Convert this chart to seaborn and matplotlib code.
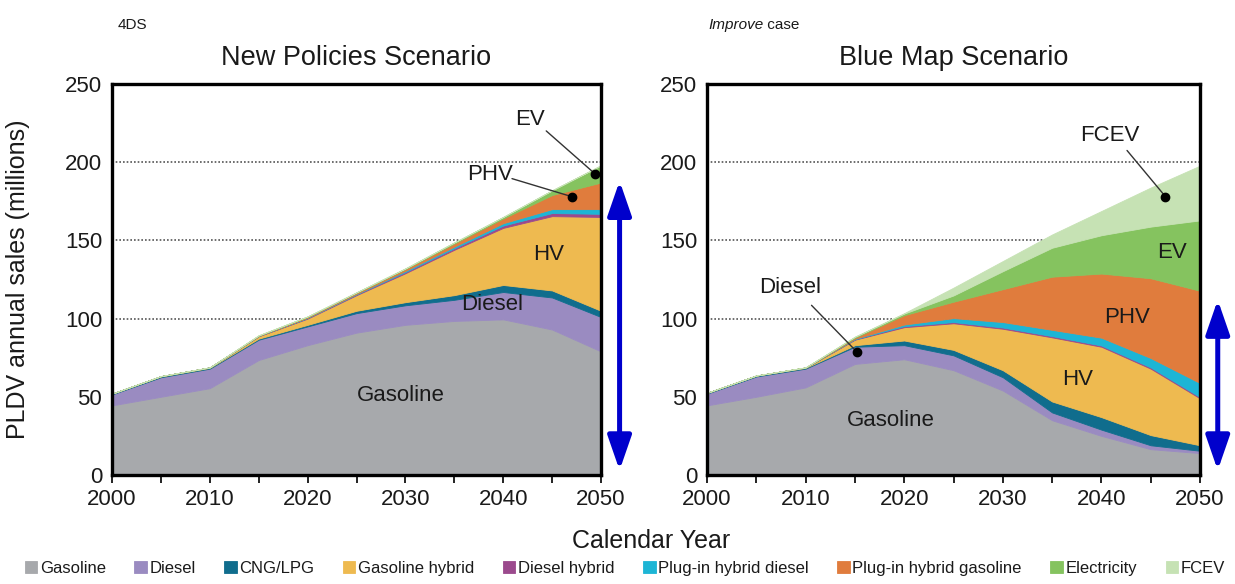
import matplotlib
matplotlib.use("Agg")
import matplotlib.pyplot as plt
import pandas as pd
import seaborn as sns

# ---- data: annual passenger light-duty vehicle sales, millions ----
years = [2000, 2005, 2010, 2015, 2020, 2025, 2030, 2035, 2040, 2045, 2050]
categories = ["Gasoline", "Diesel", "CNG/LPG", "Gasoline hybrid", "Diesel hybrid",
              "Plug-in hybrid diesel", "Plug-in hybrid gasoline", "Electricity", "FCEV"]

# New Policies Scenario (4DS)
nps_gasoline = [44.5, 50, 55.5, 73.5, 83, 91, 96, 98.5, 99.5, 93, 79]
nps_diesel = [7, 12.5, 12.5, 13, 12, 12.5, 12.5, 13.5, 17.5, 20.5, 22]
nps_cng = [0.5, 0.5, 0.5, 0.7, 1, 1.5, 2, 3, 4.5, 4.5, 4]
nps_gas_hybrid = [0, 0.2, 0.3, 1.5, 4, 10, 18.5, 29, 36.5, 47.5, 60]
nps_diesel_hybrid = [0, 0, 0, 0.2, 0.4, 0.5, 0.8, 1, 1.5, 2, 2]
nps_phev_diesel = [0, 0, 0, 0, 0.2, 0.3, 0.7, 1, 1.5, 2.5, 3]
nps_phev_gasoline = [0, 0, 0, 0.2, 0.5, 0.7, 1.2, 2, 3, 9, 17]
nps_electric = [0, 0, 0, 0.2, 0.3, 0.3, 0.4, 0.7, 1, 3, 11]
nps_fcev = [0, 0, 0, 0, 0, 0, 0, 0, 0, 0, 0]

# Blue Map Scenario (Improve case)
bms_gasoline = [44.5, 50, 56, 71, 74, 67, 54, 35, 25, 16.5, 14]
bms_diesel = [7.5, 13, 12, 11, 9, 9.5, 8.5, 5, 4, 2.5, 1.5]
bms_cng = [0.5, 0.5, 0.5, 1, 3, 3.5, 4.5, 7, 8, 6.5, 3.5]
bms_gas_hybrid = [0, 0.1, 0.2, 3.5, 8.5, 17, 26.5, 41, 45, 42.5, 30]
bms_diesel_hybrid = [0, 0, 0, 0.3, 0.7, 0.8, 0.8, 0.8, 0.8, 0.8, 0.8]
bms_phev_diesel = [0, 0, 0, 0.3, 1, 2.5, 3.5, 4, 5, 6, 9]
bms_phev_gasoline = [0, 0, 0.1, 0.7, 6, 10.5, 21, 34, 41, 51, 59]
bms_electric = [0, 0, 0, 0.5, 1, 4, 11.5, 18.5, 24.5, 33, 45]
bms_fcev = [0, 0, 0, 0.2, 0.3, 5, 6.5, 8.5, 15.5, 25, 35]

nps = pd.DataFrame(dict(zip(categories, [
    nps_gasoline, nps_diesel, nps_cng, nps_gas_hybrid, nps_diesel_hybrid,
    nps_phev_diesel, nps_phev_gasoline, nps_electric, nps_fcev])), index=years)
bms = pd.DataFrame(dict(zip(categories, [
    bms_gasoline, bms_diesel, bms_cng, bms_gas_hybrid, bms_diesel_hybrid,
    bms_phev_diesel, bms_phev_gasoline, bms_electric, bms_fcev])), index=years)

colors = ["#a7a9ac", "#9a8bc1", "#106d8d", "#eeba50", "#9b4a8d",
          "#1db5d5", "#e07c3d", "#85c35f", "#c6e2b4"]

# ---- style ----
sns.set_theme(style="white")
plt.rcParams["font.family"] = ["Liberation Sans", "DejaVu Sans"]
text_color = "#1a1a1a"

fig = plt.figure(figsize=(12.35, 5.84), dpi=100)
W, H = 1235, 584


def frame(x0, x1, y0, y1):
    return [x0 / W, 1 - y1 / H, (x1 - x0) / W, (y1 - y0) / H]


ax_l = fig.add_axes(frame(112, 601, 84, 475))
ax_r = fig.add_axes(frame(707, 1200, 84, 475))


def draw_panel(ax, df, title):
    polys = ax.stackplot(df.index, df.T.values, colors=colors, linewidth=0.6,
                         labels=df.columns, zorder=2)
    for p, c in zip(polys, colors):
        p.set_edgecolor(c)
    for v in (100, 150, 200):
        ax.axhline(v, color="#555555", lw=1.2, ls=(0, (1, 1.2)), zorder=1)
    ax.set_xlim(2000, 2050)
    ax.set_ylim(0, 250)
    ax.set_xticks(range(2000, 2051, 10))
    ax.set_xticks(range(2005, 2050, 10), minor=True)
    ax.set_yticks(range(0, 251, 50))
    ax.tick_params(axis="x", which="both", direction="out", length=6, width=1.4,
                   color="#222222", bottom=True, labelsize=16, pad=4,
                   labelcolor=text_color)
    ax.tick_params(axis="y", length=0, labelsize=16, pad=7, labelcolor=text_color)
    for s in ax.spines.values():
        s.set_linewidth(2.4)
        s.set_color("black")
    ax.set_title(title, fontsize=19.5, pad=14, color=text_color)
    ax.grid(False)
    return polys


draw_panel(ax_l, nps, "New Policies Scenario")
draw_panel(ax_r, bms, "Blue Map Scenario")

ax_l.set_ylabel("PLDV annual sales (millions)", fontsize=18, color=text_color)
ax_l.yaxis.set_label_coords(-0.168, 0.5)
fig.text(651 / W, 1 - 541 / H, "Calendar Year", fontsize=18, ha="center",
         va="center", color=text_color)

# scenario tags above the titles
fig.text(118 / W, 1 - 25 / H, "4DS", fontsize=11, va="center", color=text_color)
t_imp = fig.text(708 / W, 1 - 25 / H, "Improve", fontsize=11, va="center",
                 style="italic", color=text_color)
ax_r.annotate(" case", xy=(1, 0.5), xycoords=t_imp, va="center", ha="left",
              fontsize=11, color=text_color, annotation_clip=False)

# ---- in-chart labels ----
lab = dict(fontsize=16, ha="center", va="center", color=text_color, zorder=5)
ax_l.text(2029.5, 51, "Gasoline", **lab)
ax_l.text(2038.9, 109, "Diesel", **lab)
ax_l.text(2044.6, 141, "HV", **lab)
ax_l.text(2038.7, 192, "PHV", bbox=dict(facecolor="white", edgecolor="none", pad=1), **lab)
ax_l.text(2042.7, 227, "EV", **lab)

ax_r.text(2018.6, 35, "Gasoline", **lab)
ax_r.text(2037.6, 61, "HV", **lab)
ax_r.text(2042.6, 100.5, "PHV", **lab)
ax_r.text(2047.2, 142, "EV", **lab)
ax_r.text(2040.9, 217, "FCEV", **lab)
ax_r.text(2008.4, 120, "Diesel", **lab)


def pointer(ax, start, end):
    ax.plot([start[0], end[0]], [start[1], end[1]], color="#333333", lw=1.0, zorder=6)
    ax.plot([end[0]], [end[1]], "o", color="black", ms=6, zorder=7)


pointer(ax_l, (2040.9, 189.5), (2047.0, 178))
pointer(ax_l, (2044.4, 220), (2049.4, 192.5))
pointer(ax_r, (2042.6, 207.5), (2046.5, 178))
pointer(ax_r, (2010.6, 108.5), (2015.2, 78.7))

# ---- range arrows to the right of each panel ----
arrow = dict(arrowstyle="<|-|>,head_length=1.3,head_width=0.45", color="#0000cc",
             lw=3.6, mutation_scale=16, shrinkA=0, shrinkB=0)
ax_l.annotate("", xy=(2051.9, 188), xytext=(2051.9, 3), arrowprops=arrow,
              annotation_clip=False)
ax_r.annotate("", xy=(2051.8, 112), xytext=(2051.8, 3), arrowprops=arrow,
              annotation_clip=False)

# ---- legend ----
handles, labels = ax_l.get_legend_handles_labels()
fig.legend(handles, labels, loc="lower center", bbox_to_anchor=(0.506, -0.012),
           ncol=9, frameon=False, fontsize=12, handlelength=0.75,
           handleheight=0.75, handletextpad=0.15, columnspacing=1.72,
           labelcolor=text_color)

fig.savefig("out.png", dpi=100, facecolor="white")
